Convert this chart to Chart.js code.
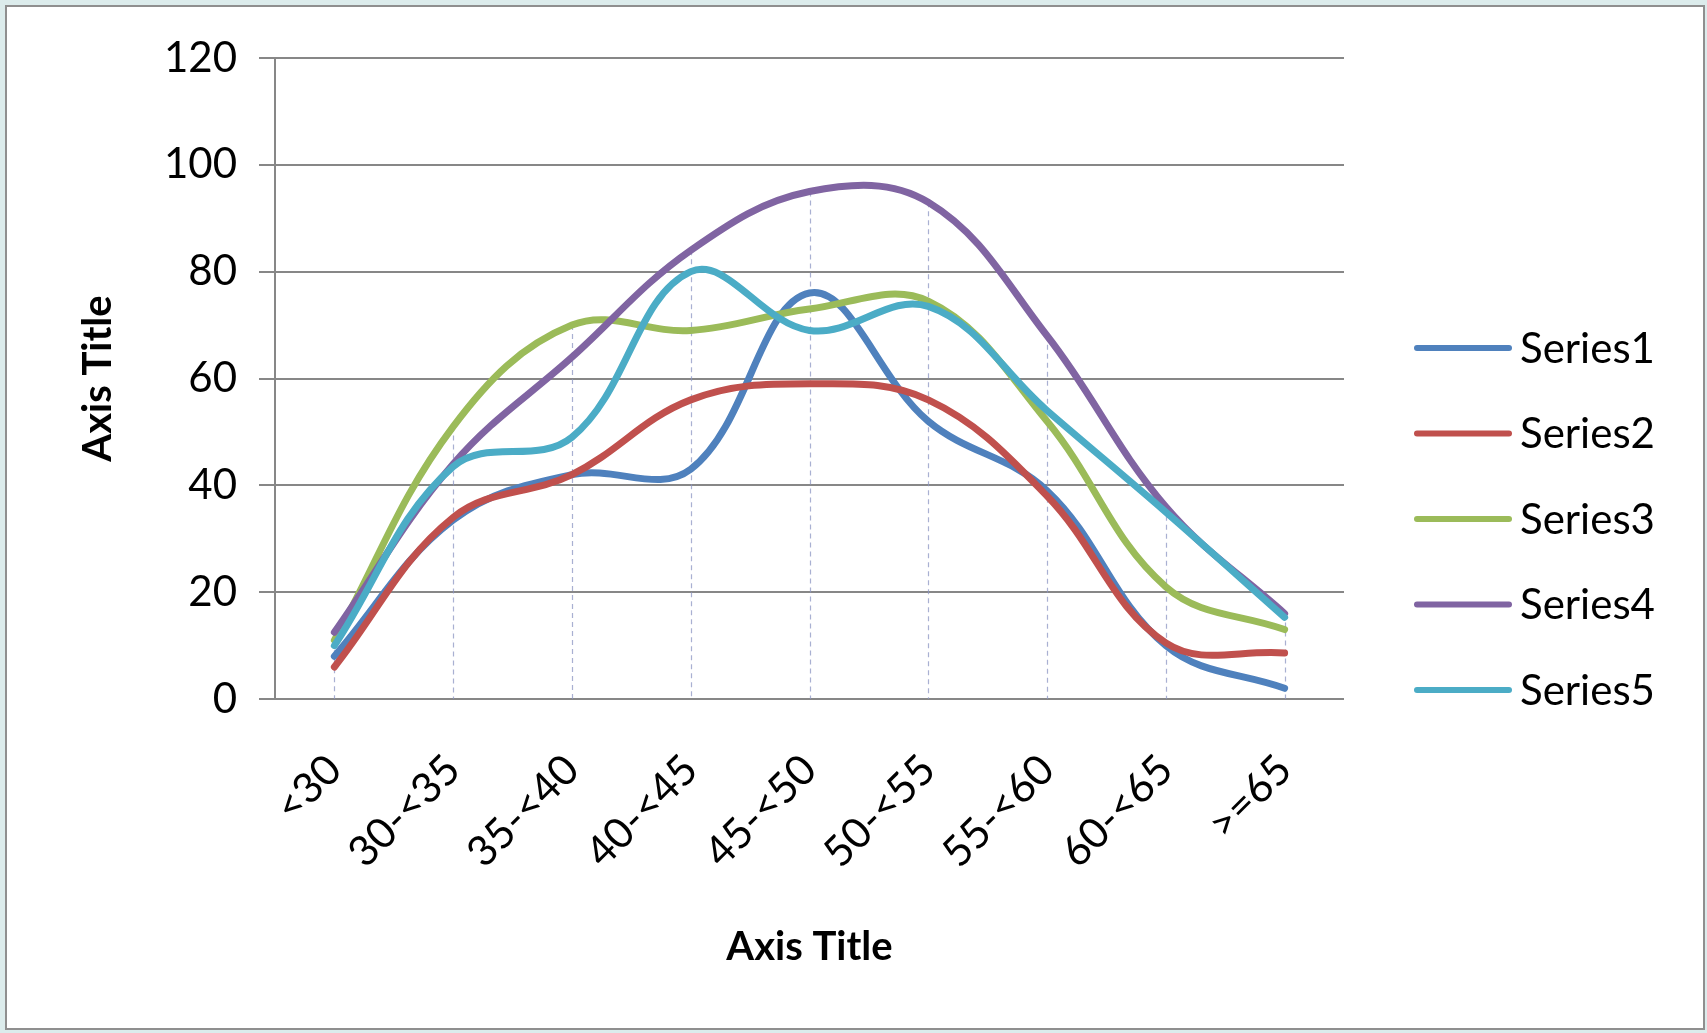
<!DOCTYPE html>
<html>
<head>
<meta charset="utf-8">
<script src="https://cdn.jsdelivr.net/npm/chart.js@4.4.1/dist/chart.umd.min.js"></script>
<style>
    html, body {
        margin: 0;
        padding: 0;
        width: 1707px;
        height: 1033px;
        overflow: hidden;
        background: #dcecec;
    }
    .frame {
        position: absolute;
        left: 5px;
        top: 5px;
        width: 1700px;
        height: 1025px;
        box-sizing: border-box;
        border: 2px solid #8f8f8f;
        background: #ffffff;
    }
    .chart-box {
        position: absolute;
        left: 0;
        top: 0;
        width: 1707px;
        height: 1033px;
    }
</style>
</head>
<body>
<div class="frame"></div>
<div class="chart-box">
    <canvas id="ageChart" width="1707" height="1033"></canvas>
</div>
<script>
// age bands along the x axis
const ageBands = ['<30', '30-<35', '35-<40', '40-<45', '45-<50', '50-<55', '55-<60', '60-<65', '>=65'];

const series1 = [8, 33.5, 42, 43, 76, 52, 39, 10, 2];
const series2 = [6, 34, 42, 56, 59, 56, 38, 10.5, 8.6];
const series3 = [11, 51, 70, 69, 73, 74.5, 52, 21, 13];
const series4 = [12.5, 44, 64, 84, 95, 93, 68, 36, 16];
const series5 = [10, 43.5, 49, 80, 69, 73.5, 54, 35, 15.3];

const seriesNames = ['Series1', 'Series2', 'Series3', 'Series4', 'Series5'];
const seriesColors = ['#4f81bd', '#c0504d', '#9bbb59', '#8064a2', '#4bacc6'];

const yTicks = [0, 20, 40, 60, 80, 100, 120];

const FONT = 'Lato, "Open Sans", sans-serif';
const GRID = '#878787';

// dashed drop lines from the highest point of each band down to zero
const dropLines = {
    id: 'dropLines',
    beforeDatasetsDraw(chart) {
        const { ctx, scales: { x, y } } = chart;
        ctx.save();
        ctx.strokeStyle = 'rgba(140,150,195,0.75)';
        ctx.lineWidth = 1.2;
        ctx.setLineDash([5, 4]);
        ageBands.forEach((band, i) => {
            const top = Math.max(...chart.data.datasets.map(ds => ds.data[i]));
            const px = Math.round(x.getPixelForValue(i)) + 0.5;
            ctx.beginPath();
            ctx.moveTo(px, y.getPixelForValue(top));
            ctx.lineTo(px, y.getPixelForValue(0));
            ctx.stroke();
        });
        ctx.restore();
    }
};

// legend down the right-hand side
const sideLegend = {
    id: 'sideLegend',
    afterDraw(chart) {
        const { ctx } = chart;
        ctx.save();
        seriesNames.forEach((name, i) => {
            const rowY = 348 + i * 85.5;
            ctx.strokeStyle = seriesColors[i];
            ctx.lineWidth = 6;
            ctx.lineCap = 'round';
            ctx.beginPath();
            ctx.moveTo(1417, rowY);
            ctx.lineTo(1509, rowY);
            ctx.stroke();
            ctx.fillStyle = '#000';
            ctx.font = '42px ' + FONT;
            ctx.textBaseline = 'middle';
            ctx.textAlign = 'left';
            ctx.fillText(name, 1520, rowY + 1);
        });
        ctx.restore();
    }
};

const ctx = document.getElementById('ageChart').getContext('2d');
const ageChart = new Chart(ctx, {
    type: 'line',
    data: {
        labels: ageBands,
        datasets: [series1, series2, series3, series4, series5].map((values, i) => ({
            label: seriesNames[i],
            data: values,
            borderColor: seriesColors[i],
            backgroundColor: seriesColors[i],
            borderWidth: 7,
            borderCapStyle: 'round',
            borderJoinStyle: 'round',
            tension: 0.38,
            pointRadius: 0,
            fill: false,
            // later series sit on top of earlier ones
            order: 4 - i
        }))
    },
    options: {
        responsive: false,
        animation: false,
        layout: {
            padding: { top: 58, right: 363, bottom: 0, left: 0 }
        },
        plugins: {
            legend: { display: false },
            tooltip: { enabled: false }
        },
        scales: {
            x: {
                offset: true,
                grid: { display: false },
                border: { display: false },
                ticks: {
                    color: '#000',
                    font: { family: FONT, size: 42 },
                    maxRotation: 45,
                    minRotation: 45,
                    padding: 38
                },
                title: {
                    display: true,
                    text: 'Axis Title',
                    color: '#000',
                    font: { family: FONT, size: 40, weight: 'bold' },
                    padding: { top: 0, bottom: 62 }
                },
                afterFit(scale) {
                    scale.height = 334;
                }
            },
            y: {
                min: 0,
                max: 120,
                afterBuildTicks(scale) {
                    scale.ticks = yTicks.map(v => ({ value: v }));
                },
                grid: {
                    color: GRID,
                    lineWidth: 2,
                    tickLength: 16
                },
                border: { display: true, color: GRID, width: 2 },
                ticks: {
                    color: '#000',
                    font: { family: FONT, size: 42 },
                    padding: 22
                },
                title: {
                    display: true,
                    text: 'Axis Title',
                    color: '#000',
                    font: { family: FONT, size: 40, weight: 'bold' },
                    padding: { top: 74, bottom: 0 }
                },
                afterFit(scale) {
                    scale.width = 275;
                }
            }
        }
    },
    plugins: [dropLines, sideLegend]
});
</script>
</body>
</html>
